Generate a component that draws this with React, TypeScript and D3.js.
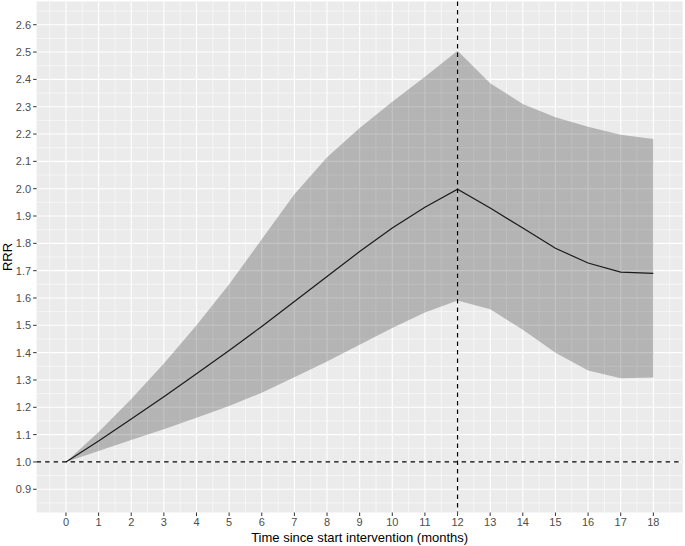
import React from "react";
import * as d3 from "d3";

const months = [0, 1, 2, 3, 4, 5, 6, 7, 8, 9, 10, 11, 12, 13, 14, 15, 16, 17, 18];
const rrr = [1.0, 1.077, 1.157, 1.239, 1.323, 1.408, 1.496, 1.587, 1.679, 1.770, 1.856, 1.932, 1.998, 1.929, 1.856, 1.782, 1.728, 1.695, 1.690];
const upper = [1.0, 1.11, 1.23, 1.36, 1.50, 1.65, 1.815, 1.98, 2.115, 2.222, 2.318, 2.41, 2.505, 2.386, 2.31, 2.261, 2.227, 2.197, 2.182];
const lower = [1.0, 1.04, 1.08, 1.12, 1.162, 1.205, 1.253, 1.31, 1.368, 1.429, 1.49, 1.547, 1.591, 1.559, 1.484, 1.40, 1.335, 1.306, 1.309];
const xTicks = [0, 1, 2, 3, 4, 5, 6, 7, 8, 9, 10, 11, 12, 13, 14, 15, 16, 17, 18];
const yTicks = [0.9, 1.0, 1.1, 1.2, 1.3, 1.4, 1.5, 1.6, 1.7, 1.8, 1.9, 2.0, 2.1, 2.2, 2.3, 2.4, 2.5, 2.6];
const refY = 1.0;
const refX = 12;
const xLabel = "Time since start intervention (months)";
const yLabel = "RRR";

const W = 685;
const H = 546;
const P = { left: 36.6, right: 682.7, top: 1.5, bottom: 512.5 };

export default function App() {
  const x = d3.scaleLinear().domain([-0.9, 18.9]).range([P.left, P.right]);
  const y = d3.scaleLinear().domain([0.815, 2.685]).range([P.bottom, P.top]);

  const pts = months.map((m, i) => ({ m, v: rrr[i], lo: lower[i], hi: upper[i] }));
  const line = d3.line<any>().x((d) => x(d.m)).y((d) => y(d.v));
  const area = d3
    .area<any>()
    .x((d) => x(d.m))
    .y0((d) => y(d.lo))
    .y1((d) => y(d.hi));

  const xMinor: number[] = [];
  for (let v = -0.5; v <= 18.6; v += 1) xMinor.push(v);
  const yMinor: number[] = [];
  for (let k = 0; k < 19; k++) yMinor.push(0.85 + k * 0.1);

  const font = "'Liberation Sans', Arial, sans-serif";

  return (
    <svg
      width={W}
      height={H}
      style={{ position: "absolute", left: 0, top: 0, background: "#fff" }}
      fontFamily={font}
    >
      <rect x={P.left} y={P.top} width={P.right - P.left} height={P.bottom - P.top} fill="#EBEBEB" />
      <g stroke="#fff" strokeWidth={0.55}>
        {xMinor.map((v) => (
          <line key={"xm" + v} x1={x(v)} x2={x(v)} y1={P.top} y2={P.bottom} />
        ))}
        {yMinor.filter((v) => y(v) > P.top && y(v) < P.bottom).map((v) => (
          <line key={"ym" + v} x1={P.left} x2={P.right} y1={y(v)} y2={y(v)} />
        ))}
      </g>
      <g stroke="#fff" strokeWidth={1.1}>
        {xTicks.map((v) => (
          <line key={"xM" + v} x1={x(v)} x2={x(v)} y1={P.top} y2={P.bottom} />
        ))}
        {yTicks.map((v) => (
          <line key={"yM" + v} x1={P.left} x2={P.right} y1={y(v)} y2={y(v)} />
        ))}
      </g>
      <path d={area(pts) || ""} fill="#000" fillOpacity={0.23} />
      <path d={line(pts) || ""} fill="none" stroke="#1a1a1a" strokeWidth={1.2} />
      <line x1={P.left} x2={P.right} y1={y(refY)} y2={y(refY)} stroke="#000" strokeWidth={1.2} strokeDasharray="4.5,4" />
      <line x1={x(refX)} x2={x(refX)} y1={P.top} y2={P.bottom} stroke="#000" strokeWidth={1.2} strokeDasharray="4.5,4" />

      <g stroke="#333" strokeWidth={1}>
        {xTicks.map((v) => (
          <line key={"xt" + v} x1={x(v)} x2={x(v)} y1={P.bottom} y2={P.bottom + 3.5} />
        ))}
        {yTicks.map((v) => (
          <line key={"yt" + v} x1={P.left - 3.5} x2={P.left} y1={y(v)} y2={y(v)} />
        ))}
      </g>
      <g fill="#4D4D4D" fontSize={11}>
        {xTicks.map((v) => (
          <text key={"xl" + v} x={x(v)} y={P.bottom + 13.5} textAnchor="middle">
            {String(v)}
          </text>
        ))}
        {yTicks.map((v) => (
          <text key={"yl" + v} x={P.left - 5.5} y={y(v) + 3.9} textAnchor="end">
            {v.toFixed(1)}
          </text>
        ))}
      </g>
      <text x={(P.left + P.right) / 2} y={542} textAnchor="middle" fontSize={13} fill="#000">
        {xLabel}
      </text>
      <text
        transform={`translate(12,${(P.top + P.bottom) / 2}) rotate(-90)`}
        textAnchor="middle"
        fontSize={13}
        fill="#000"
      >
        {yLabel}
      </text>
    </svg>
  );
}
